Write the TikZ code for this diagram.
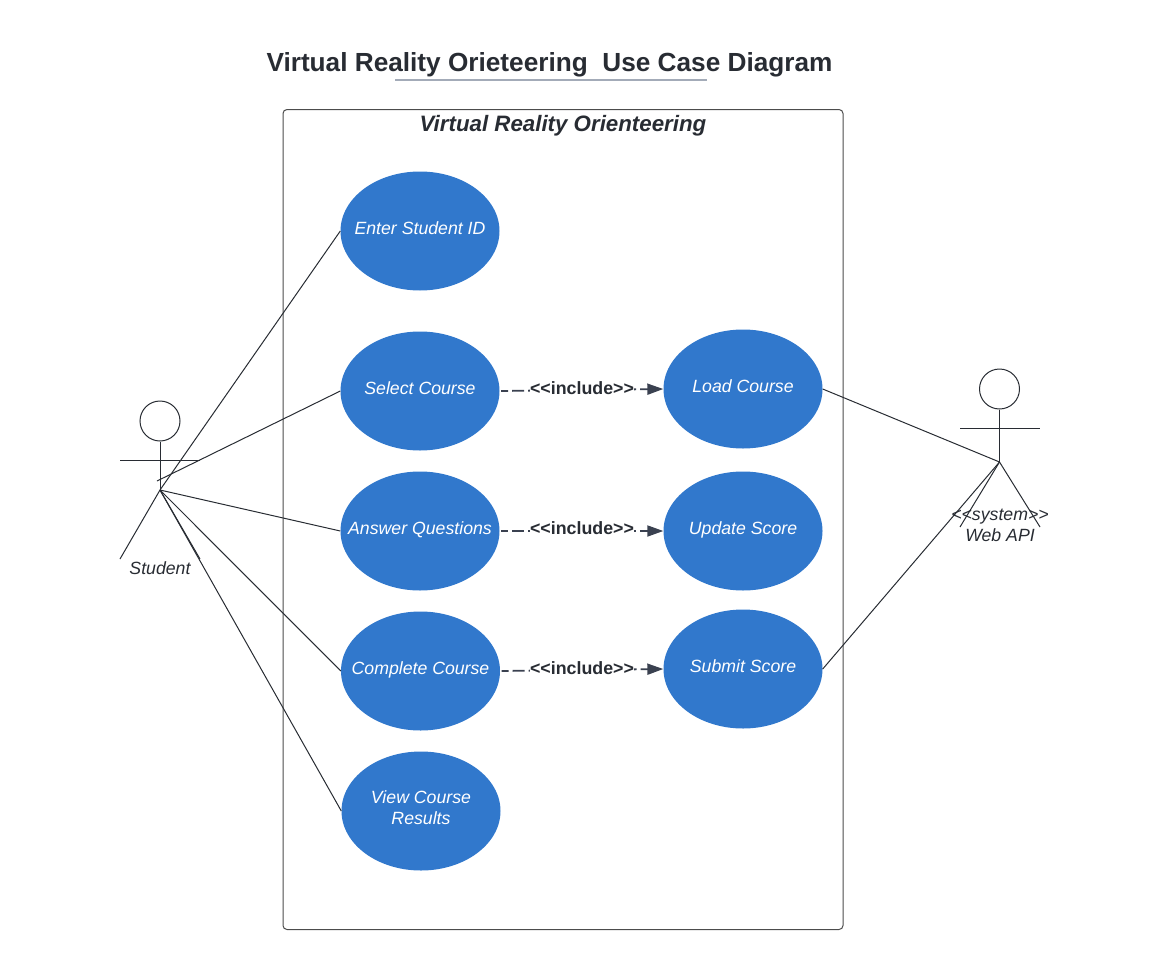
\documentclass[tikz,border=0pt]{standalone}
\usepackage{fontspec}
\setmainfont{Liberation Sans}
\usetikzlibrary{shapes.geometric,arrows.meta}
\definecolor{ucblue}{HTML}{3178CC}
\definecolor{inkdark}{HTML}{282C33}
\definecolor{tipdark}{HTML}{3A4150}
\definecolor{rulegrey}{HTML}{A3ABB8}
% text of a use case: takes no room, so the ellipse keeps its size
\newcommand{\uctext}[1]{\raisebox{-3pt}[0pt][0pt]{\makebox[0pt]{\begin{tabular}{@{}c@{}}#1\end{tabular}}}}
\begin{document}
\begin{tikzpicture}
    [x=1pt,y=-1pt,
     usecase/.style={ellipse,fill=ucblue,minimum width=159pt,minimum height=119pt,inner sep=0pt,
       text=white,font=\fontsize{17.7}{21.7}\selectfont\itshape},
     actorlabel/.style={text=inkdark,align=center,inner sep=0pt,font=\fontsize{17.7}{21}\selectfont\itshape},
     includelabel/.style={fill=white,text=inkdark,inner sep=0.5pt,font=\fontsize{17.8}{21}\selectfont\bfseries},
     includeline/.style={draw=tipdark,line width=1.8pt,dash pattern=on 12pt off 4pt,dash phase=5pt,shorten <=1.5pt,
       -{Triangle[length=16pt,width=11pt]}},
     assoc/.style={draw=inkdark,line width=1pt},
     stick/.style={draw=inkdark,line width=1pt}]
    \useasboundingbox (0,0) rectangle (1159,969);
    % title and boundary
    \node[text=inkdark,inner sep=0pt,font=\fontsize{26.2}{32}\selectfont\bfseries] (title) at (549.5,64.5) {Virtual Reality Orieteering\ \ Use Case Diagram};
    \coordinate (rulel) at (395,80);
    \coordinate (ruler) at (707,80);
    \draw[rulegrey,line width=2pt] (rulel) -- (ruler);
    \node[draw=black!70,line width=1pt,rounded corners=4pt,minimum width=560pt,minimum height=820pt,inner sep=0pt] (system) at (563,519.5) {};
    \node[text=inkdark,inner sep=0pt,font=\fontsize{22.3}{27}\selectfont\bfseries\itshape] (systemname) at (563,126) {Virtual Reality Orienteering};
    % use cases
    \node[usecase] (enter) at (420,231) {\uctext{Enter Student ID}};
    \node[usecase] (select) at (420,391) {\uctext{Select Course}};
    \node[usecase] (answer) at (420,531) {\uctext{Answer Questions}};
    \node[usecase] (complete) at (420.5,671) {\uctext{Complete Course}};
    \node[usecase] (results) at (421,811) {\uctext{View Course\\Results}};
    \node[usecase] (load) at (743,389) {\uctext{Load Course}};
    \node[usecase] (update) at (743,531) {\uctext{Update Score}};
    \node[usecase] (submit) at (743,669) {\uctext{Submit Score}};
    % student
    \node[circle,stick,minimum size=40pt,inner sep=0pt] (shead) at (160,421) {};
    \coordinate (ship) at (160,490);
    \coordinate (sarml) at (120,460);
    \coordinate (sarmr) at (200,460);
    \coordinate (slegl) at (120,559);
    \coordinate (slegr) at (200,559);
    \coordinate (sside) at (157,481);
    \draw[stick] (shead) -- (ship);
    \draw[stick] (sarml) -- (sarmr);
    \draw[stick] (ship) -- (slegl);
    \draw[stick] (ship) -- (slegr);
    \node[actorlabel] (student) at (160,568) {Student};
    % web api
    \node[circle,stick,minimum size=40pt,inner sep=0pt] (whead) at (999.5,389) {};
    \coordinate (whip) at (999.5,462);
    \coordinate (warml) at (960,428);
    \coordinate (warmr) at (1040,428);
    \coordinate (wlegl) at (960,527);
    \coordinate (wlegr) at (1040,527);
    \draw[stick] (whead) -- (whip);
    \draw[stick] (warml) -- (warmr);
    \draw[stick] (whip) -- (wlegl);
    \draw[stick] (whip) -- (wlegr);
    \node[actorlabel] (webapi) at (1000,525) {<{}<system>{}>\\Web API};
    % associations
    \draw[assoc] (ship) -- (enter.west);
    \draw[assoc] (sside) -- (select.west);
    \draw[assoc] (ship) -- (answer.west);
    \draw[assoc] (ship) -- (complete.west);
    \draw[assoc] (ship) -- (results.west);
    \draw[assoc] (load.east) -- (whip);
    \draw[assoc] (submit.east) -- (whip);
    % includes
    \draw[includeline] (select.east) -- (load.west);
    \draw[includeline] (answer.east) -- (update.west);
    \draw[includeline] (complete.east) -- (submit.west);
    \node[includelabel] (inc1) at (582,388.5) {<{}<include>{}>};
    \node[includelabel] (inc2) at (582,528.5) {<{}<include>{}>};
    \node[includelabel] (inc3) at (582,668.5) {<{}<include>{}>};
  \end{tikzpicture}
\end{document}
